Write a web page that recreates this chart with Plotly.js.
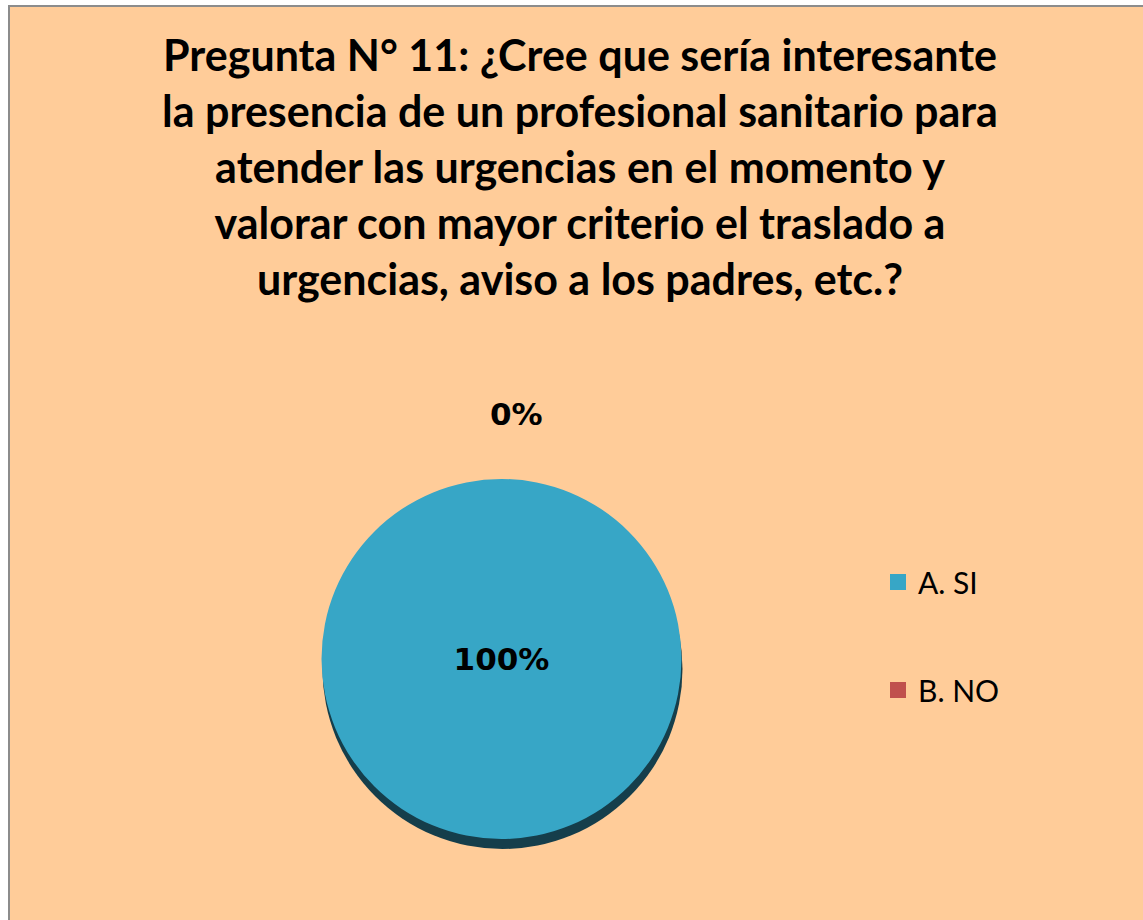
<!DOCTYPE html>
<html>
<head>
<meta charset="utf-8">
<script src="https://cdn.plot.ly/plotly-3.0.1.min.js"></script>
<style>
  html, body { margin: 0; padding: 0; background: #ffffff; }
  #chart { position: absolute; left: 8px; top: 5px; width: 1140px; height: 920px;
           border-left: 2px solid #8c8c8c; border-top: 2px solid #8c8c8c; }
</style>
</head>
<body>
<div id="chart"></div>
<script>
const categories = ["A. SI", "B. NO"];
const values = [100, 0];
const sliceColors = ["#37A6C6", "#C0504D"];
const titleLines = [
  "Pregunta N° 11: ¿Cree que sería interesante",
  "la presencia de un profesional sanitario para",
  "atender las urgencias en el momento y",
  "valorar con mayor criterio el traslado a",
  "urgencias, aviso a los padres, etc.?"
];

const total = values.reduce((a, b) => a + b, 0);
const W = 1140, H = 920;
const cx = 491.5, cy = 652, r = 180;
const dom = {
  x: [(cx - r) / W, (cx + r) / W],
  y: [1 - (cy + r) / H, 1 - (cy - r) / H]
};
const shift = 10 / H;

const shadow = {
  type: "pie", values: values, labels: categories, sort: false, direction: "clockwise",
  rotation: 0, domain: { x: [dom.x[0] + 1 / W, dom.x[1] + 1 / W], y: [dom.y[0] - shift, dom.y[1] - shift] },
  marker: { colors: ["#153E4B", "#153E4B"], line: { width: 0 } },
  textinfo: "none", hoverinfo: "skip", showlegend: false
};

const pie = {
  type: "pie", values: values, labels: categories, sort: false, direction: "clockwise",
  rotation: 0, domain: dom,
  marker: { colors: sliceColors, line: { width: 0 } },
  texttemplate: "%{percent:.0%}", textposition: "inside",
  insidetextfont: { family: "DejaVu Sans", size: 31, color: "#000000", weight: "bold" },
  showlegend: false
};

const legendTraces = categories.map((c, i) => ({
  type: "scatter", mode: "markers", x: [null], y: [null], name: c,
  legendgroup: "g" + i, showlegend: true,
  marker: { symbol: "square", size: 22, color: sliceColors[i] }
}));

// label for the zero slice (placed above the pie)
const zeroLabels = values.map((v, i) => ({ v, i })).filter(o => o.v === 0).map(o => ({
  text: "<b>" + Math.round(100 * o.v / total) + "%</b>",
  xref: "paper", yref: "paper", x: 506 / W, y: 1 - 407 / H,
  showarrow: false, font: { family: "DejaVu Sans", size: 31, color: "#000000" }
}));

const layout = {
  width: W, height: H,
  paper_bgcolor: "#FFCC99", plot_bgcolor: "rgba(0,0,0,0)",
  margin: { l: 0, r: 0, t: 0, b: 0 },
  title: {
    text: titleLines.join("<br>"),
    font: { family: "Lato", size: 43, color: "#000000", weight: "bold" },
    x: 0.5, xref: "paper", xanchor: "center",
    y: 1 - 64 / H, yref: "container", yanchor: "top"
  },
  xaxis: { visible: false }, yaxis: { visible: false },
  showlegend: true,
  legend: {
    x: 868 / W, xanchor: "left", y: 1 - 549 / H, yanchor: "top",
    bgcolor: "rgba(0,0,0,0)", traceorder: "grouped", tracegroupgap: 66,
    font: { family: "Lato", size: 30, color: "#000000" }
  },
  annotations: zeroLabels
};

Plotly.newPlot("chart", [shadow, pie].concat(legendTraces), layout, { displayModeBar: false, staticPlot: true });
</script>
</body>
</html>
